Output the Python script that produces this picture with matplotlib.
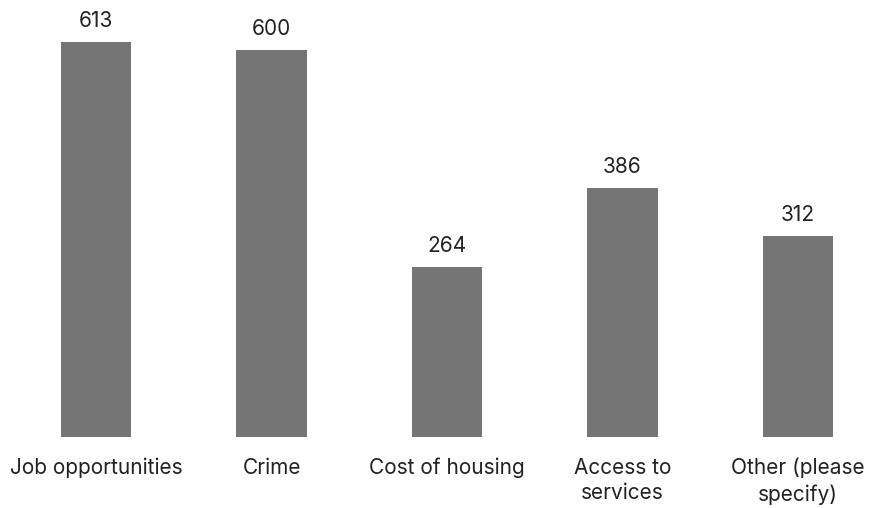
import matplotlib.pyplot as plt

categories = ["Job opportunities", "Crime", "Cost of housing", "Access to\nservices", "Other (please\nspecify)"]
counts = [613, 600, 264, 386, 312]

plt.rcParams['font.family'] = ['Inter', 'DejaVu Sans']

fig = plt.figure(figsize=(8.92, 5.08), dpi=100)
ax = fig.add_axes([8.25 / 892, 71 / 508, 877.5 / 892, 419 / 508])

x = range(len(counts))
bars = ax.bar(x, counts, width=0.4, color="#757575")
ax.bar_label(bars, labels=[str(c) for c in counts], padding=8, fontsize=15, color="#222222")

ax.set_xlim(-0.5, len(counts) - 0.5)
ax.set_ylim(0, 650)
ax.set_xticks(list(x))
ax.set_xticklabels(categories, fontsize=15, color="#222222", linespacing=1.35)
ax.tick_params(axis="x", length=0, pad=15)
ax.set_yticks([])
for s in ax.spines.values():
    s.set_visible(False)

fig.savefig("out.png", dpi=100)
